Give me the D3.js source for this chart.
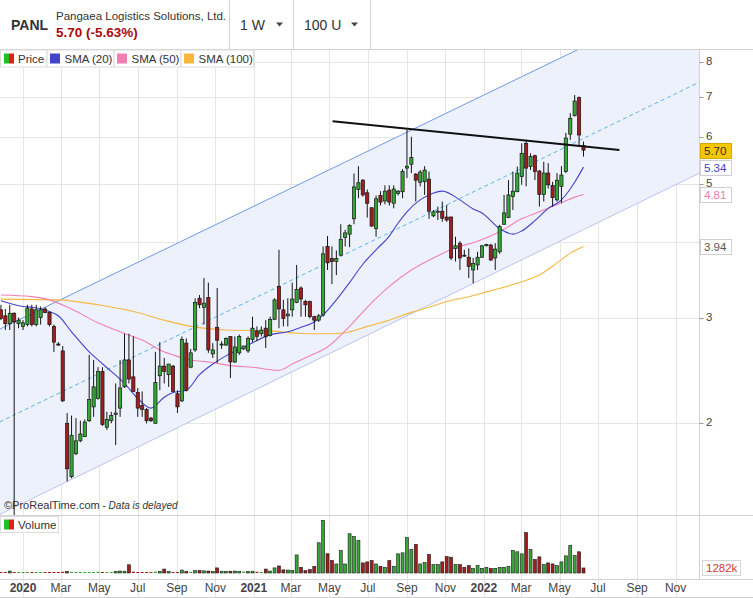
<!DOCTYPE html>
<html>
<head>
<meta charset="utf-8">
<script src="https://cdn.jsdelivr.net/npm/d3@7"></script>
<style>
  body { margin: 0; background: #fff; }
  #wrapper { width: 753px; height: 598px; }
</style>
</head>
<body>
<div id="wrapper"></div>
<script>
// weekly bars, first one is the week of 2019-11-27, last one the week of 2022-06-08
const firstWeek = new Date(2019, 10, 27);
const lastWeek = new Date(2022, 5, 8);

const opens = [
  3.09, 3.02, 2.93, 3.05, 2.93,
  2.90, 2.92, 3.10, 2.92, 3.00, 3.10, 3.06, 2.90, 2.71, 2.64,
  2.00, 1.63, 1.78, 1.87, 1.90, 2.02, 2.13, 2.20, 2.44, 1.97,
  2.02, 2.07, 2.12, 2.30, 2.55, 2.39, 2.25, 2.14, 2.11, 2.04,
  2.00, 2.40, 2.49, 2.41, 2.49, 2.24, 2.18, 2.72, 2.48, 2.65,
  3.23, 3.12, 3.24, 2.61, 2.89, 2.70, 2.70, 2.79, 2.53, 2.62,
  2.66, 2.64, 2.76, 2.85, 2.82, 2.88, 2.80, 2.98, 3.38, 3.09,
  3.02, 3.09, 3.18, 3.36, 3.19, 3.19, 3.01, 2.97, 3.03, 3.94,
  3.76, 3.72, 3.81, 4.08, 4.13, 4.38, 4.90, 5.08, 4.84, 4.57,
  4.22, 4.79, 4.69, 4.89, 4.65, 4.83, 4.86, 5.32, 5.40, 5.20,
  5.04, 5.05, 5.10, 4.43, 4.50, 4.51, 4.41, 4.41, 3.91, 3.99,
  3.81, 3.78, 3.60, 3.67, 3.78, 3.95, 3.96, 3.77, 3.86, 4.29,
  4.40, 4.77, 4.86, 5.15, 5.85, 5.35, 5.58, 5.26, 4.81, 5.22,
  4.98, 4.71, 4.96, 5.25, 6.06, 6.51, 6.97, 5.80,
];
const highs = [
  3.15, 3.10, 3.15, 3.06, 3.00,
  2.97, 3.15, 3.15, 3.15, 3.13, 3.12, 3.07, 2.92, 2.73, 2.69,
  2.08, 2.06, 2.04, 2.02, 2.03, 2.60, 2.55, 2.48, 2.48, 2.09,
  2.09, 2.33, 2.55, 2.82, 2.82, 2.79, 2.29, 2.26, 2.12, 2.05,
  2.63, 2.73, 2.57, 2.51, 2.50, 2.27, 2.79, 2.77, 2.66, 3.23,
  3.27, 3.49, 3.43, 2.72, 3.36, 2.74, 2.78, 2.79, 2.79, 2.81,
  2.69, 2.79, 3.01, 2.90, 2.90, 2.97, 3.01, 3.23, 3.89, 3.21,
  3.23, 3.43, 3.67, 3.38, 3.21, 3.20, 3.02, 3.04, 3.94, 4.10,
  3.94, 3.88, 4.29, 4.20, 4.29, 5.21, 5.36, 5.10, 4.90, 4.58,
  4.79, 4.87, 4.98, 4.98, 4.98, 4.89, 5.30, 6.16, 6.00, 5.22,
  5.28, 5.36, 5.25, 4.53, 4.59, 4.68, 4.62, 4.42, 4.09, 4.02,
  3.89, 3.91, 3.77, 3.86, 3.96, 3.98, 3.98, 3.99, 4.28, 4.80,
  5.08, 5.25, 5.35, 5.85, 5.93, 5.63, 5.60, 5.28, 5.45, 5.42,
  5.05, 5.22, 5.36, 6.09, 6.57, 7.04, 7.00, 5.89,
];
const lows = [
  2.97, 2.86, 2.86, 1.30, 2.88,
  2.86, 2.90, 2.90, 2.90, 2.92, 3.05, 2.90, 2.63, 2.69, 2.17,
  1.60, 1.62, 1.77, 1.86, 1.90, 2.01, 2.05, 2.19, 1.98, 1.95,
  2.00, 1.84, 2.05, 2.29, 2.33, 2.26, 2.05, 2.05, 2.00, 2.01,
  2.00, 2.27, 2.33, 2.30, 2.26, 2.08, 2.17, 2.26, 2.47, 2.63,
  3.11, 2.92, 2.62, 2.57, 2.52, 2.66, 2.69, 2.38, 2.52, 2.60,
  2.65, 2.62, 2.73, 2.74, 2.79, 2.67, 2.79, 2.97, 2.88, 2.90,
  2.90, 3.01, 3.17, 3.01, 3.01, 2.99, 2.86, 2.95, 3.01, 3.60,
  3.41, 3.53, 3.80, 3.94, 3.93, 4.29, 4.74, 4.77, 4.40, 4.25,
  4.09, 4.61, 4.63, 4.61, 4.56, 4.79, 4.74, 5.12, 5.22, 4.68,
  4.96, 4.80, 4.38, 4.41, 4.36, 4.33, 4.33, 3.74, 3.72, 3.60,
  3.79, 3.49, 3.42, 3.60, 3.77, 3.94, 3.73, 3.60, 3.83, 4.28,
  4.39, 4.53, 4.85, 4.99, 4.96, 5.28, 5.08, 4.59, 4.68, 4.92,
  4.59, 4.68, 4.65, 5.22, 5.93, 6.48, 5.78, 5.56,
];
const closes = [
  2.99, 2.93, 3.05, 2.95, 2.97,
  2.94, 3.11, 2.92, 3.09, 3.09, 3.06, 2.92, 2.73, 2.70, 2.18,
  1.68, 1.91, 1.87, 1.92, 2.01, 2.19, 2.30, 2.44, 1.99, 2.03,
  2.06, 2.08, 2.29, 2.55, 2.37, 2.26, 2.12, 2.11, 2.02, 2.02,
  2.34, 2.49, 2.44, 2.51, 2.26, 2.13, 2.76, 2.27, 2.62, 3.18,
  3.15, 3.17, 2.65, 2.65, 2.75, 2.71, 2.77, 2.53, 2.68, 2.79,
  2.69, 2.77, 2.88, 2.79, 2.86, 2.79, 2.98, 3.21, 3.10, 2.99,
  3.04, 3.22, 3.34, 3.22, 3.15, 3.01, 2.97, 3.02, 3.83, 3.70,
  3.72, 3.76, 4.05, 4.15, 4.27, 4.95, 5.03, 4.80, 4.65, 4.26,
  4.73, 4.67, 4.87, 4.67, 4.91, 4.87, 5.25, 5.36, 5.54, 5.08,
  5.24, 5.28, 4.51, 4.50, 4.51, 4.39, 4.36, 3.77, 3.95, 3.77,
  3.80, 3.65, 3.69, 3.78, 3.95, 3.97, 3.74, 3.90, 4.25, 4.48,
  4.80, 4.87, 5.22, 5.63, 5.32, 5.56, 5.25, 4.81, 5.22, 4.99,
  4.75, 5.08, 5.18, 5.97, 6.44, 6.88, 6.04, 5.70,
];
// weekly volume, thousands of shares
const volumes = [
  60, 60, 500, 80, 60,
  80, 60, 60, 60, 250, 80, 60, 250, 60, 300,
  400, 300, 250, 150, 60, 100, 250, 300, 250, 60,
  100, 400, 500, 450, 2100, 350, 80, 60, 80, 60,
  350, 400, 1000, 400, 80, 60, 750, 400, 80, 600,
  650, 550, 500, 400, 1300, 450, 400, 450, 500, 400,
  350, 400, 450, 300, 100, 1000, 500, 1300, 1800, 800,
  750, 700, 4600, 1450, 600, 850, 1700, 7700, 13400, 4900,
  3200, 2300, 5700, 2300, 10000, 9250, 8300, 2570, 2830, 3170,
  2300, 1720, 1460, 3170, 1720, 4880, 5140, 9000, 6000, 7280,
  2310, 2650, 4710, 2140, 2140, 2830, 4200, 4030, 2140, 2140,
  1460, 1880, 1110, 1880, 1200, 1460, 1200, 1200, 1460, 1460,
  1720, 5740, 5400, 4880, 10280, 6000, 3430, 4110, 2140, 2570,
  2310, 1880, 2830, 4370, 7020, 4450, 5400, 1282,
];

// moving averages: week number (0 = first week of 2020) and value
const sma20Weeks = [-5, 0, 2, 6, 8, 11, 15, 17, 20, 23, 26, 29, 32, 34, 37, 40, 43, 46, 51, 56,
  60, 63, 66, 68, 71, 74, 77, 80, 83, 85, 87, 90, 92, 95, 99, 102, 104, 108, 111, 113,
  116, 119, 122, 125, 127];
const sma20 = [3.20, 3.13, 3.12, 3.07, 3.02, 2.84, 2.63, 2.55, 2.44, 2.33, 2.20, 2.12, 2.21, 2.25, 2.27,
  2.41, 2.51, 2.59, 2.70, 2.81, 2.84, 2.89, 2.95, 3.03, 3.21, 3.43, 3.68, 3.89, 4.10, 4.31,
  4.50, 4.71, 4.80, 4.87, 4.71, 4.55, 4.48, 4.22, 4.13, 4.18, 4.35, 4.56, 4.71, 5.04, 5.34];
const sma50Weeks = [-5, 2, 6, 11, 17, 22, 28, 31, 34, 38, 42, 48, 52, 58, 61, 65, 69, 74, 78, 83,
  88, 93, 98, 103, 108, 113, 118, 122, 125, 127];
const sma50 = [3.27, 3.25, 3.21, 3.10, 2.94, 2.84, 2.73, 2.65, 2.60, 2.55, 2.53, 2.49, 2.48, 2.45, 2.51,
  2.59, 2.68, 2.90, 3.12, 3.38, 3.60, 3.77, 3.92, 4.02, 4.17, 4.38, 4.53, 4.66, 4.76, 4.81];
const sma100Weeks = [-5, 8, 17, 25, 32, 38, 46, 56, 64, 70, 73, 78, 83, 88, 92, 96, 101, 105, 109, 113,
  117, 121, 124, 127];
const sma100 = [3.22, 3.21, 3.15, 3.07, 2.97, 2.90, 2.86, 2.85, 2.82, 2.82, 2.83, 2.90, 2.97, 3.06, 3.12,
  3.19, 3.25, 3.31, 3.37, 3.44, 3.53, 3.70, 3.84, 3.94];

// trend channel (edges and middle) and the black resistance line
const channelDates = ['2019-11-25', '2022-12-09'];
const channelUpper = [2.87, 10.5];
const channelMid = [2.01, 7.40];
const channelLower = [1.41, 5.22];
const trendDates = ['2021-05-06', '2022-08-04'];
const trendPrices = [6.37, 5.70];

const priceTicks = [2, 3, 4, 5, 6, 7, 8];
const symbol = 'PANL';
const companyName = 'Pangaea Logistics Solutions, Ltd.';
const changeText = '5.70 (-5.63%)';
const periodLabels = ['1 W', '100 U'];
const legendLabels = ['Price', 'SMA (20)', 'SMA (50)', 'SMA (100)'];

function drawChart() {
  const width = 753;
  const height = 598;
  const dims = {
    plotLeft: 0,
    plotRight: 699.5,
    headerBottom: 49.5,
    priceBottom: 515.5,
    volumeBottom: 579.5,
  };

  const green = '#36a636';
  const red = '#a11d1d';
  const gridColor = '#e6e6e6';
  const frameColor = '#d2d2d2';
  const textColor = '#444';
  const colors = { sma20: '#4343cc', sma50: '#f27fb4', sma100: '#f6b73c' };

  const parse = d3.timeParse('%Y-%m-%d');
  const weeks = d3.timeWednesday.range(firstWeek, d3.timeDay.offset(lastWeek, 1));
  const weekDate = (k) => weeks[k + 5];

  const candleData = weeks.map((date, i) => ({
    date,
    open: opens[i],
    high: highs[i],
    low: lows[i],
    close: closes[i],
    volume: volumes[i],
  }));

  const xScale = d3
    .scaleTime()
    .domain([new Date(2020, 0, 1), new Date(2022, 6, 1)])
    .range([23, 598]);
  const yScale = d3.scaleLog().domain([2, 8]).range([423.3, 61.7]);
  const volScale = d3.scaleLinear().domain([0, 13500]).range([573, 520]);

  const svg = d3
    .select('#wrapper')
    .append('svg')
    .attr('width', width)
    .attr('height', height)
    .style('font-family', '"Liberation Sans", Arial, sans-serif');

  svg.append('rect').attr('width', width).attr('height', height).attr('fill', '#fff');

  const defs = svg.append('defs');
  defs
    .append('clipPath')
    .attr('id', 'price-clip')
    .append('rect')
    .attr('x', dims.plotLeft)
    .attr('y', dims.headerBottom)
    .attr('width', dims.plotRight - dims.plotLeft)
    .attr('height', dims.priceBottom - dims.headerBottom);

  // month grid
  const months = d3.timeMonth
    .every(2)
    .range(xScale.invert(0), xScale.invert(dims.plotRight));
  svg
    .append('g')
    .selectAll('line')
    .data(months)
    .join('line')
    .attr('x1', (d) => Math.round(xScale(d)) + 0.5)
    .attr('x2', (d) => Math.round(xScale(d)) + 0.5)
    .attr('y1', dims.headerBottom)
    .attr('y2', 597)
    .attr('stroke', gridColor);

  // price grid
  svg
    .append('g')
    .selectAll('line')
    .data(priceTicks)
    .join('line')
    .attr('x1', 0)
    .attr('x2', dims.plotRight)
    .attr('y1', (d) => Math.round(yScale(d)) + 0.5)
    .attr('y2', (d) => Math.round(yScale(d)) + 0.5)
    .attr('stroke', gridColor);

  const price = svg.append('g').attr('clip-path', 'url(#price-clip)');

  // channel
  const cx0 = xScale(parse(channelDates[0]));
  const cx1 = xScale(parse(channelDates[1]));
  price
    .append('path')
    .attr(
      'd',
      `M${cx0},${yScale(channelUpper[0])}L${cx1},${yScale(channelUpper[1])}` +
        `L${cx1},${yScale(channelLower[1])}L${cx0},${yScale(channelLower[0])}Z`
    )
    .attr('fill', '#ecf1fc');

  const channelLine = (vals, color, dash) =>
    price
      .append('line')
      .attr('x1', cx0)
      .attr('x2', cx1)
      .attr('y1', yScale(vals[0]))
      .attr('y2', yScale(vals[1]))
      .attr('stroke', color)
      .attr('stroke-width', 1)
      .attr('stroke-dasharray', dash);
  channelLine(channelUpper, '#6f98e8', null);
  channelLine(channelMid, '#5ab6e4', '4,3');
  channelLine(channelLower, '#bcc3f2', null);

  // moving averages
  const smaLine = d3
    .line()
    .x((d) => xScale(weekDate(d[0])))
    .y((d) => yScale(d[1]))
    .curve(d3.curveMonotoneX);
  const drawSma = (ks, vals, color) =>
    price
      .append('path')
      .attr('d', smaLine(d3.zip(ks, vals)))
      .attr('fill', 'none')
      .attr('stroke', color)
      .attr('stroke-width', 1.1);
  drawSma(sma100Weeks, sma100, colors.sma100);
  drawSma(sma50Weeks, sma50, colors.sma50);
  drawSma(sma20Weeks, sma20, colors.sma20);

  // candles
  const bodyWidth = 3.2;
  price
    .append('g')
    .selectAll('line')
    .data(candleData)
    .join('line')
    .attr('x1', (d) => xScale(d.date))
    .attr('x2', (d) => xScale(d.date))
    .attr('y1', (d) => yScale(d.high))
    .attr('y2', (d) => yScale(d.low))
    .attr('stroke', '#151515')
    .attr('stroke-width', 1);

  price
    .append('g')
    .selectAll('rect')
    .data(candleData)
    .join('rect')
    .attr('x', (d) => xScale(d.date) - bodyWidth / 2)
    .attr('width', bodyWidth)
    .attr('y', (d) => yScale(Math.max(d.open, d.close)))
    .attr('height', (d) =>
      Math.max(1, Math.abs(yScale(d.open) - yScale(d.close)))
    )
    .attr('fill', (d) => (d.close >= d.open ? green : red))
    .attr('stroke', '#151515')
    .attr('stroke-width', 0.7);

  // resistance line
  price
    .append('line')
    .attr('x1', xScale(parse(trendDates[0])))
    .attr('x2', xScale(parse(trendDates[1])))
    .attr('y1', yScale(trendPrices[0]))
    .attr('y2', yScale(trendPrices[1]))
    .attr('stroke', '#111')
    .attr('stroke-width', 2);

  // volume bars
  const vol = svg.append('g');
  vol
    .selectAll('rect')
    .data(candleData)
    .join('rect')
    .attr('x', (d) => xScale(d.date) - 1.5)
    .attr('width', 3)
    .attr('y', (d) => Math.min(volScale(d.volume), volScale(0) - 1))
    .attr('height', (d) => Math.max(1, volScale(0) - volScale(d.volume)))
    .attr('fill', (d) => (d.close >= d.open ? green : red))
    .attr('stroke', (d) => (volScale(0) - volScale(d.volume) > 1.5 ? '#1a1a1a' : 'none'))
    .attr('stroke-width', 0.6);

  // frame
  const frame = svg.append('g').attr('stroke', frameColor).attr('fill', 'none');
  frame.append('line').attr('x1', 0).attr('x2', width).attr('y1', dims.headerBottom).attr('y2', dims.headerBottom);
  frame.append('line').attr('x1', 0).attr('x2', width).attr('y1', dims.priceBottom).attr('y2', dims.priceBottom);
  frame.append('line').attr('x1', 0).attr('x2', width).attr('y1', dims.volumeBottom).attr('y2', dims.volumeBottom);
  frame.append('line').attr('x1', 0).attr('x2', width).attr('y1', 597.5).attr('y2', 597.5);
  frame.append('line').attr('x1', dims.plotRight).attr('x2', dims.plotRight).attr('y1', dims.headerBottom).attr('y2', dims.volumeBottom);
  [229.5, 293.5, 370.5].forEach((x) =>
    frame.append('line').attr('x1', x).attr('x2', x).attr('y1', 0).attr('y2', dims.headerBottom)
  );

  // last value markers (drawn over the axis labels they cover)
  const last = candleData.length - 1;
  const markers = [
    { v: closes[last], fill: '#f6c600', stroke: '#d9a900', text: '#333' },
    { v: sma20[sma20.length - 1], fill: '#fff', stroke: '#cfcfcf', text: colors.sma20 },
    { v: sma50[sma50.length - 1], fill: '#fff', stroke: '#cfcfcf', text: '#e97fae' },
    { v: sma100[sma100.length - 1], fill: '#fff', stroke: '#cfcfcf', text: '#555' },
  ];
  const markerYs = markers.map((m) => yScale(m.v));

  // price axis: a tick label that sits under a marker box is hidden, as in the original
  const axis = svg.append('g');
  axis
    .selectAll('line')
    .data(priceTicks)
    .join('line')
    .attr('x1', dims.plotRight)
    .attr('x2', dims.plotRight + 4)
    .attr('y1', (d) => Math.round(yScale(d)) + 0.5)
    .attr('y2', (d) => Math.round(yScale(d)) + 0.5)
    .attr('stroke', '#999');
  axis
    .selectAll('text')
    .data(priceTicks.filter((t) => markerYs.every((my) => Math.abs(my - yScale(t)) > 8)))
    .join('text')
    .attr('x', 706)
    .attr('y', (d) => yScale(d) - 1)
    .attr('dy', '0.35em')
    .attr('font-size', 11.5)
    .attr('fill', textColor)
    .text((d) => d);

  const mk = svg.append('g');
  markers.forEach((m, i) => {
    const y = markerYs[i];
    mk.append('rect')
      .attr('x', 700.5)
      .attr('y', Math.round(y - 7.5) + 0.5)
      .attr('width', 31)
      .attr('height', 15)
      .attr('fill', m.fill)
      .attr('stroke', m.stroke);
    mk.append('text')
      .attr('x', 704)
      .attr('y', y + 0.5)
      .attr('dy', '0.34em')
      .attr('font-size', 11.5)
      .attr('fill', m.text)
      .text(m.v.toFixed(2));
  });
  const lastVolY = volScale(volumes[last]);
  mk.append('rect')
    .attr('x', 702.5)
    .attr('y', Math.round(lastVolY - 8) + 0.5)
    .attr('width', 38)
    .attr('height', 15)
    .attr('fill', '#fff')
    .attr('stroke', '#d6d6d6');
  mk.append('text')
    .attr('x', 706)
    .attr('y', lastVolY - 0.5)
    .attr('dy', '0.36em')
    .attr('font-size', 11.5)
    .attr('fill', '#d23a3a')
    .text(`${volumes[last]}k`);

  // date axis
  svg
    .append('g')
    .selectAll('text')
    .data(months)
    .join('text')
    .attr('x', (d) => xScale(d))
    .attr('y', 588)
    .attr('dy', '0.35em')
    .attr('text-anchor', 'middle')
    .attr('font-size', 12)
    .attr('font-weight', (d) => (d.getMonth() === 0 ? 'bold' : 'normal'))
    .attr('fill', textColor)
    .text((d) => (d.getMonth() === 0 ? d3.timeFormat('%Y')(d) : d3.timeFormat('%b')(d)));

  // header
  const header = svg.append('g').attr('fill', '#333');
  header.append('text').attr('x', 11).attr('y', 30).attr('font-size', 14).attr('font-weight', 'bold').text(symbol);
  header.append('text').attr('x', 56).attr('y', 20).attr('font-size', 11.5).text(companyName);
  header
    .append('text')
    .attr('x', 56)
    .attr('y', 37)
    .attr('font-size', 13.5)
    .attr('font-weight', 'bold')
    .attr('fill', '#a80c0c')
    .text(changeText);
  [240, 304].forEach((x, i) => {
    header.append('text').attr('x', x).attr('y', 30).attr('font-size', 14).text(periodLabels[i]);
  });
  [279.5, 354.5].forEach((x) => {
    header.append('path').attr('d', `M${x - 3.5},22.5L${x + 3.5},22.5L${x},26.5Z`).attr('fill', '#444');
  });

  // legend
  const legendBoxes = [
    [0, 46.5],
    [46.5, 113.5],
    [113.5, 180.5],
    [180.5, 253],
  ];
  const legend = svg.append('g');
  legendBoxes.forEach(([x0, x1], i) => {
    legend
      .append('rect')
      .attr('x', x0 + 0.5)
      .attr('y', 50)
      .attr('width', x1 - x0)
      .attr('height', 17)
      .attr('fill', '#fff')
      .attr('stroke', '#dcdcdc');
    if (i === 0) {
      legend.append('rect').attr('x', 4).attr('y', 53.5).attr('width', 5).attr('height', 10).attr('fill', '#22c022');
      legend.append('rect').attr('x', 9).attr('y', 53.5).attr('width', 5).attr('height', 10).attr('fill', '#e81c1c');
    } else {
      legend
        .append('rect')
        .attr('x', x0 + 3.5)
        .attr('y', 53.5)
        .attr('width', 10)
        .attr('height', 10)
        .attr('fill', [null, colors.sma20, colors.sma50, colors.sma100][i]);
    }
    legend
      .append('text')
      .attr('x', x0 + 18)
      .attr('y', 62.5)
      .attr('font-size', 11.5)
      .attr('fill', '#333')
      .text(legendLabels[i]);
  });

  // volume legend
  legend.append('rect').attr('x', 0.5).attr('y', 516.5).attr('width', 58).attr('height', 16).attr('fill', '#fff').attr('stroke', '#dcdcdc');
  legend.append('rect').attr('x', 4).attr('y', 519.5).attr('width', 5).attr('height', 10).attr('fill', '#22c022');
  legend.append('rect').attr('x', 9).attr('y', 519.5).attr('width', 5).attr('height', 10).attr('fill', '#e81c1c');
  legend.append('text').attr('x', 18).attr('y', 528.5).attr('font-size', 11.5).attr('fill', '#333').text('Volume');

  // copyright
  const copy = svg.append('text').attr('x', 4).attr('y', 509).attr('font-size', 11).attr('fill', '#333');
  copy.append('tspan').text('\u00a9ProRealTime.com');
  copy.append('tspan').attr('font-size', 10).text(' - ');
  copy.append('tspan').attr('font-size', 10).attr('font-style', 'italic').text('Data is delayed');
}

drawChart();
</script>
</body>
</html>
